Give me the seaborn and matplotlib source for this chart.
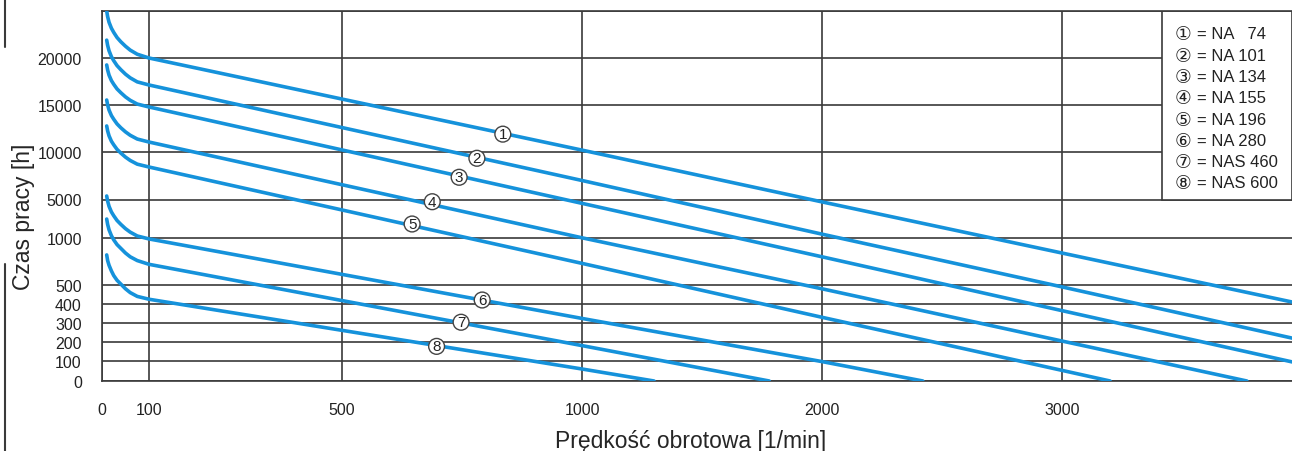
import matplotlib
matplotlib.use("Agg")
import matplotlib.pyplot as plt
import numpy as np
import pandas as pd
import seaborn as sns
from matplotlib.lines import Line2D
from matplotlib.patches import Rectangle

# curves: speed [1/min] -> working time [h]
rpm_start = [10, 12, 15, 20, 25, 32, 40, 50, 60, 75, 100]
rpm_1 = rpm_start + [1000, 2000, 3000, 3960]
hours_1 = [25000, 24400, 23800, 23170, 22720, 22180, 21730, 21250, 20840, 20400, 20000,
           10200, 4750, 840, 410]
rpm_2 = rpm_start + [1000, 2000, 3000, 3960]
hours_2 = [21900, 21340, 20770, 20140, 19710, 19190, 18760, 18280, 17890, 17460, 17130,
           7000, 1400, 490, 220]
rpm_3 = rpm_start + [1000, 2000, 3000, 3960]
hours_3 = [19260, 18720, 18180, 17600, 17200, 16710, 16310, 15860, 15500, 15100, 14790,
           4600, 800, 365, 95]
rpm_4 = rpm_start + [1000, 2000, 3000, 3770]
hours_4 = [15530, 15000, 14460, 13880, 13480, 12990, 12580, 12140, 11780, 11380, 11060,
           1020, 480, 205, 0]
rpm_5 = rpm_start + [1000, 2000, 3200]
hours_5 = [12770, 12240, 11720, 11150, 10760, 10280, 9890, 9460, 9110, 8720, 8420,
           730, 330, 0]
rpm_6 = rpm_start + [1000, 2000, 2420]
hours_6 = [5370, 4830, 4290, 3710, 3310, 2820, 2420, 1970, 1610, 1210, 990,
           324, 97, 0]
rpm_7 = rpm_start + [1000, 1780]
hours_7 = [2970, 2410, 1850, 1240, 980, 930, 890, 840, 800, 760, 720,
           181, 0]
rpm_8 = rpm_start + [1000, 1300]
hours_8 = [820, 760, 710, 650, 600, 550, 510, 480, 460, 440, 425,
           60, 0]

# circled markers on the curves
label_rpm = [835, 781, 744, 688, 646, 792, 748, 697]
label_hours = [11900, 9340, 7340, 4770, 2455, 421, 304, 177]

legend_names = ["NA   74", "NA 101", "NA 134", "NA 155", "NA 196", "NA 280", "NAS 460", "NAS 600"]
circled = ["①", "②", "③", "④", "⑤", "⑥", "⑦", "⑧"]

x_ticks = [0, 100, 500, 1000, 2000, 3000]
y_ticks = [0, 100, 200, 300, 400, 500, 1000, 5000, 10000, 15000, 20000]

# the printed axes are piecewise linear
x_breaks = [0, 100, 500, 1000, 2000, 3000, 4000]
x_pos = [0, 47, 240, 480, 720, 960, 1200]
y_breaks = [0, 100, 200, 300, 400, 500, 1000, 5000, 10000, 15000, 20000, 25000]
y_pos = [0, 20, 39, 58, 77, 96, 143, 181.5, 229, 276, 323, 370]

blue = "#1592db"
grid_c = "#3a3a3a"

rpms = [rpm_1, rpm_2, rpm_3, rpm_4, rpm_5, rpm_6, rpm_7, rpm_8]
hours = [hours_1, hours_2, hours_3, hours_4, hours_5, hours_6, hours_7, hours_8]
df = pd.concat(
    [pd.DataFrame({"rpm": r, "hours": h, "curve": str(i)}) for i, (r, h) in enumerate(zip(rpms, hours), 1)],
    ignore_index=True,
)

sns.set_style("white")
plt.rcParams["font.family"] = ["Liberation Sans", "DejaVu Sans"]

fig = plt.figure(figsize=(12.92, 4.52), dpi=100)
ax = fig.add_axes([102 / 1292, 70 / 452, 1 - 102 / 1292, 370 / 452])

ax.set_xscale("function", functions=(lambda v: np.interp(v, x_breaks, x_pos),
                                     lambda p: np.interp(p, x_pos, x_breaks)))
ax.set_yscale("function", functions=(lambda v: np.interp(v, y_breaks, y_pos),
                                     lambda p: np.interp(p, y_pos, y_breaks)))

sns.lineplot(data=df, x="rpm", y="hours", hue="curve", palette=[blue] * 8,
             estimator=None, sort=False, legend=False, linewidth=2.6, ax=ax, zorder=3)
for ln in ax.lines:
    ln.set_solid_joinstyle("round")

ax.set_xlim(0, 3958)
ax.set_ylim(0, 25000)
ax.set_xticks(x_ticks)
ax.set_xticklabels([str(t) for t in x_ticks])
ax.set_yticks(y_ticks + [25000])
ax.set_yticklabels([str(t) for t in y_ticks] + [""])
ax.minorticks_off()
ax.grid(True, color=grid_c, linewidth=1.2)
ax.set_axisbelow(True)

for side in ["left", "bottom", "top"]:
    ax.spines[side].set_color(grid_c)
    ax.spines[side].set_linewidth(1.2)
ax.spines["right"].set_visible(False)

ax.tick_params(axis="y", length=8.5, width=1.2, color=grid_c, pad=6, labelsize=11.5, labelcolor="#222")
ax.tick_params(axis="x", length=6, width=1.2, color=grid_c, pad=9, labelsize=11.5, labelcolor="#222")

ax.set_xlabel("Prędkość obrotowa [1/min]", fontsize=16.5)
ax.set_ylabel("Czas pracy [h]", fontsize=16.5)
ax.xaxis.set_label_coords((691 - 102) / 1190, -0.13)
ax.yaxis.set_label_coords(-0.056, 0.446)

for i, (r, h) in enumerate(zip(label_rpm, label_hours), 1):
    ax.text(r, h, str(i), ha="center", va="center", fontsize=11, color="#222", zorder=5,
            bbox=dict(boxstyle="circle,pad=0.06", fc="white", ec="#444", lw=1.0))

# legend box in the top right corner
ax.add_patch(Rectangle((3417, 5000), 3958 - 3417, 20000, fc="white", ec=grid_c, lw=1.2, zorder=2))
for k, (c, name) in enumerate(zip(circled, legend_names)):
    yy = 0.938 - k * 0.0575
    ax.text(0.9085, yy, c, transform=ax.transAxes, ha="center", va="center", fontsize=13.5,
            family=["DejaVu Sans", "Noto Sans CJK JP"], color="#222", zorder=6)
    ax.text(0.9205, yy, "= " + name, transform=ax.transAxes, ha="left", va="center",
            fontsize=12, color="#222", zorder=6)

# remains of the outer frame at the left edge
fig.add_artist(Line2D([5 / 1292] * 2, [1 - 48 / 452, 1], transform=fig.transFigure, color=grid_c, lw=1.5))
fig.add_artist(Line2D([5 / 1292] * 2, [0, 1 - 265 / 452], transform=fig.transFigure, color=grid_c, lw=1.5))

fig.savefig("out.png", dpi=100)
